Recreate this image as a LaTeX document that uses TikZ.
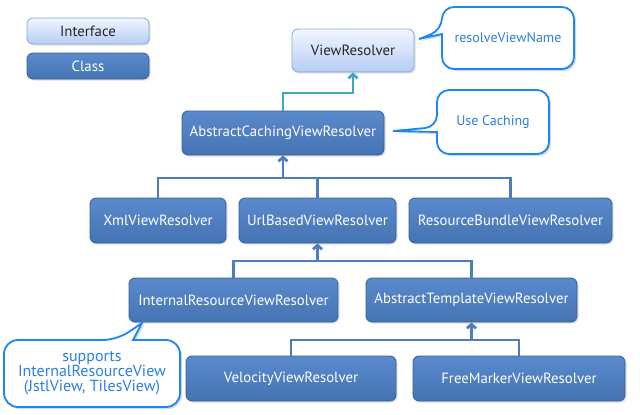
\documentclass[tikz,border=0pt]{standalone}
\usepackage{fontspec}
\setmainfont{PT Sans}
\usetikzlibrary{arrows.meta,shadows}
\definecolor{clstop}{HTML}{5A8ACB}
\definecolor{clsbot}{HTML}{4574B5}
\definecolor{clsborder}{HTML}{34609E}
\definecolor{iftop}{HTML}{F2F6FF}
\definecolor{ifbot}{HTML}{B6CDF3}
\definecolor{ifborder}{HTML}{86A9DC}
\definecolor{connc}{HTML}{4C7DBF}
\definecolor{tealc}{HTML}{3FA6C6}
\definecolor{callc}{HTML}{1C86F2}
\definecolor{calltext}{HTML}{2B7FE6}
\tikzset{
  boxbase/.style={rounded corners=6pt, inner sep=0pt, line width=0.8pt,
    font=\fontsize{14.8}{16}\selectfont,
    drop shadow={opacity=0.25, shadow xshift=1.5pt, shadow yshift=-1.5pt}},
  clsbox/.style={boxbase, draw=clsborder, top color=clstop, bottom color=clsbot, text=white},
  ifbox/.style={boxbase, draw=ifborder, top color=iftop, bottom color=ifbot, text=black!85},
  conn/.style={draw=connc, line width=2.8pt},
  iconn/.style={draw=tealc, line width=2.8pt},
  uptip/.style={-{Straight Barb[length=4pt,width=9pt]}},
  callshape/.style={draw=callc, fill=white, line width=1.8pt,
    drop shadow={opacity=0.3, shadow xshift=2pt, shadow yshift=-2pt}},
  calltxt/.style={text=calltext, font=\fontsize{14}{15}\selectfont, align=center, inner sep=0pt}
}
\begin{document}
\begin{tikzpicture}[x=1pt,y=-1pt]
\useasboundingbox (0,0) rectangle (640,415);
\fill[white] (0,0) rectangle (640,415);

% legend
\node[ifbox, minimum width=122pt, minimum height=26pt] (legI) at (88,31) {Interface};
\node[clsbox, minimum width=122pt, minimum height=26pt] (legC) at (88,66) {Class};

% nodes
\node[ifbox, minimum width=122pt, minimum height=43pt] (vr) at (353,50.5) {ViewResolver};
\node[clsbox, minimum width=202pt, minimum height=44pt] (acvr) at (283,133) {AbstractCachingViewResolver};
\node[clsbox, minimum width=136pt, minimum height=45pt] (xml) at (158,220.5) {XmlViewResolver};
\node[clsbox, minimum width=157pt, minimum height=45pt] (url) at (317.5,220.5) {UrlBasedViewResolver};
\node[clsbox, minimum width=203pt, minimum height=45pt] (rb) at (510.5,220.5) {ResourceBundleViewResolver};
\node[clsbox, minimum width=209pt, minimum height=44pt] (irvr) at (233.5,300) {InternalResourceViewResolver};
\node[clsbox, minimum width=211pt, minimum height=44pt] (atvr) at (471.5,300) {AbstractTemplateViewResolver};
\node[clsbox, minimum width=210pt, minimum height=45pt] (vel) at (291,378.5) {VelocityViewResolver};
\node[clsbox, minimum width=212pt, minimum height=45pt] (fm) at (519,378.5) {FreeMarkerViewResolver};

% junctions
\coordinate (j0) at (318,93);
\coordinate (j1) at (283,178);
\coordinate (j2) at (317.5,261);
\coordinate (j3) at (471.5,340);

% connectors
\draw[iconn, uptip] (acvr.north) |- (j0) -| (vr.south);
\draw[conn] (xml.north) |- (j1) -| (rb.north);
\draw[conn] (url.north) -- (url.north |- j1);
\draw[conn, uptip] (j1) -- (acvr.south);
\draw[conn] (irvr.north) |- (j2) -| (atvr.north);
\draw[conn, uptip] (j2) -- (url.south);
\draw[conn] (vel.north) |- (j3) -| (fm.north);
\draw[conn, uptip] (j3) -- (atvr.south);

% callouts
\draw[callshape] (442,34) [rounded corners=12pt] -- (442,69) -- (574,69) -- (574,7) -- (442,7) -- (442,30) [sharp corners] -- (419,39) -- cycle;
\node[calltxt] (c1) at (508,38) {resolveViewName};

\draw[callshape] (437,132) [rounded corners=12pt] -- (437,154) -- (549,154) -- (549,90) -- (437,90) -- (437,127) [sharp corners] -- (393,131) -- cycle;
\node[calltxt] (c2) at (493,122) {Use Caching};

\draw[callshape] (133,340) [rounded corners=14pt] -- (180,340) -- (180,407) -- (4,407) -- (4,340) -- (117,340) [sharp corners] -- (142,323) -- cycle;
\node[calltxt, font=\fontsize{16}{15}\selectfont] (c3) at (92,373) {supports\\InternalResourceView\\(JstlView, TilesView)};
\end{tikzpicture}
\end{document}
